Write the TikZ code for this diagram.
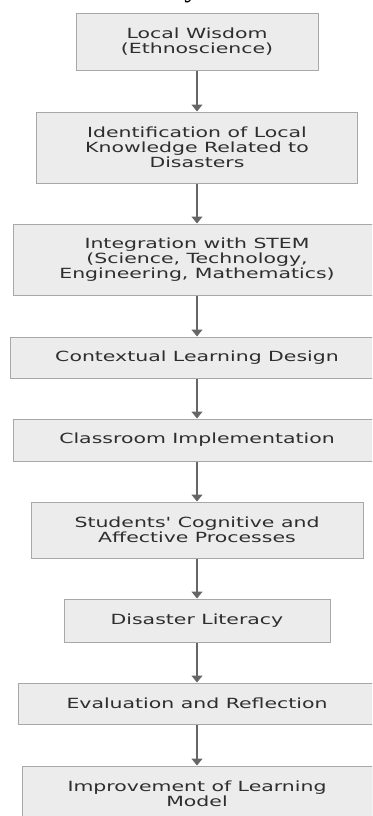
\documentclass[tikz,border=0pt]{standalone}
\usepackage{fontspec}
\setmainfont{Liberation Serif}
\newfontfamily\boxfont[FakeStretch=1.46]{DejaVu Sans}
\usetikzlibrary{arrows.meta}

\definecolor{boxfill}{HTML}{ECECEC}
\definecolor{boxline}{HTML}{A8A8A8}
\definecolor{flowline}{HTML}{666666}
\definecolor{boxtext}{HTML}{2E2E2E}

\tikzset{
  stepbox/.style={draw=boxline, fill=boxfill, line width=1pt,
    inner sep=0pt, align=center, text=boxtext,
    font=\boxfont\fontsize{14}{15}\selectfont},
  flow/.style={draw=flowline, line width=1.3pt,
    -{Triangle[length=7pt,width=11pt]}},
}

\begin{document}
\begin{tikzpicture}[x=1pt,y=-1pt]
  \useasboundingbox (0,0) rectangle (372,816);
  \clip (0,0) rectangle (372,816);

  % running text of the page, cut by the upper edge
  \node[anchor=base west, inner sep=0pt, font=\fontsize{30}{32}\selectfont]
    (caption) at (10,-3) {disaster literacy and resilience};

  % process steps, top to bottom
  \node[stepbox, minimum width=242pt, minimum height=56pt] (s1) at (197,42)
    {Local Wisdom\\(Ethnoscience)};
  \node[stepbox, minimum width=321pt, minimum height=71pt] (s2) at (197,147.5)
    {Identification of Local\\Knowledge Related to\\Disasters};
  \node[stepbox, minimum width=368pt, minimum height=71pt] (s3) at (197,259.5)
    {Integration with STEM\\(Science, Technology,\\Engineering, Mathematics)};
  \node[stepbox, minimum width=374pt, minimum height=41pt] (s4) at (197,357.5)
    {Contextual Learning Design};
  \node[stepbox, minimum width=368pt, minimum height=42pt] (s5) at (197,440)
    {Classroom Implementation};
  \node[stepbox, minimum width=332pt, minimum height=56pt] (s6) at (197,530)
    {Students' Cognitive and\\Affective Processes};
  \node[stepbox, minimum width=266pt, minimum height=43pt] (s7) at (197,620.5)
    {Disaster Literacy};
  \node[stepbox, minimum width=358pt, minimum height=41pt] (s8) at (197,703.5)
    {Evaluation and Reflection};
  \node[stepbox, minimum width=350pt, minimum height=56pt] (s9) at (197,794)
    {Improvement of Learning\\Model};

  % connectors
  \foreach \a/\b in {s1/s2, s2/s3, s3/s4, s4/s5, s5/s6, s6/s7, s7/s8, s8/s9}
    \draw[flow] (\a.south) -- (\b.north);
\end{tikzpicture}
\end{document}
